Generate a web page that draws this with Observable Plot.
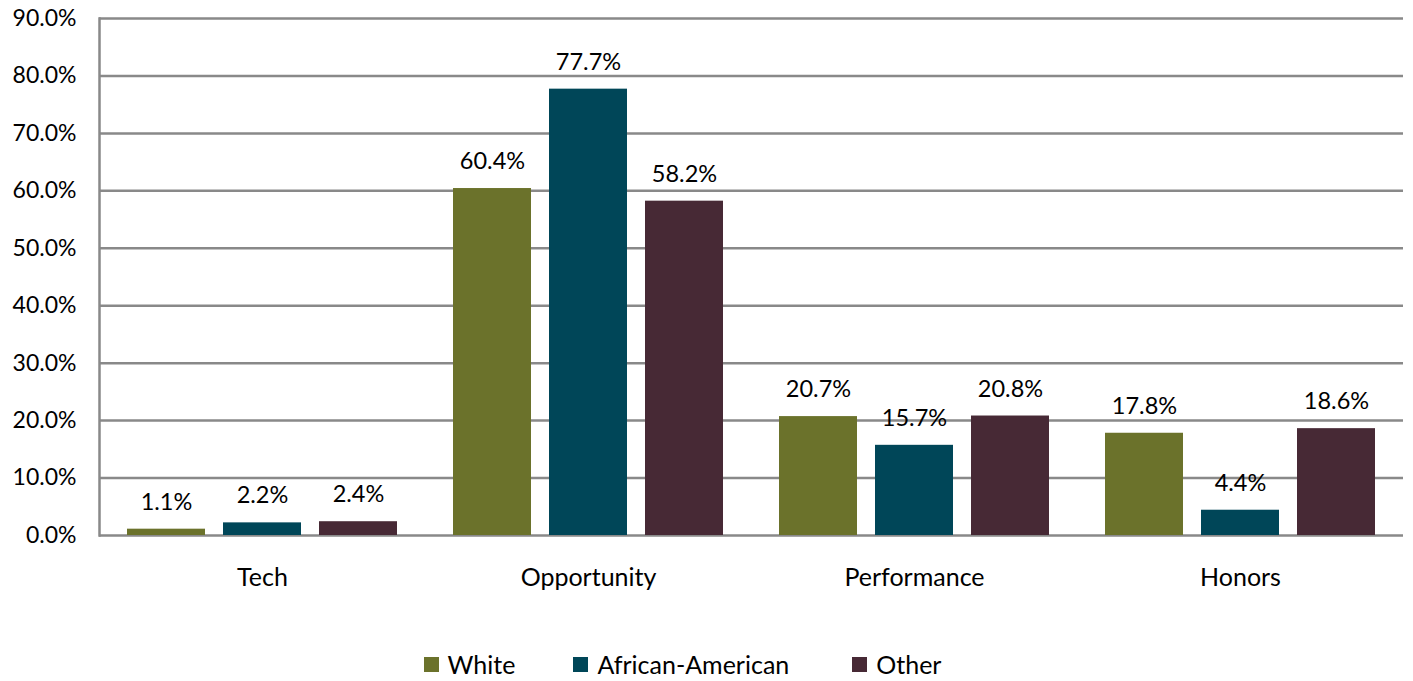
<!DOCTYPE html>
<html><head><meta charset="utf-8">
<script src="https://cdn.jsdelivr.net/npm/d3@7"></script>
<script src="https://cdn.jsdelivr.net/npm/@observablehq/plot@0.6"></script>
<style>
body{margin:0;background:#fff;font-family:Lato,"Open Sans",sans-serif;}
#legend{display:flex;justify-content:center;font-size:25px;color:#000;margin-top:49px;padding-right:48px;}
.item{display:flex;align-items:center;}
.sw{width:15px;height:15px;margin-right:9px;}
</style></head>
<body><div id="chart"></div><div id="legend"></div>
<script>
const categories = ["Tech","Opportunity","Performance","Honors"];
const series = ["White","African-American","Other"];
const colors = ["#6b722b","#004658","#472935"];
const white = [1.1, 60.4, 20.7, 17.8];
const africanAmerican = [2.2, 77.7, 15.7, 4.4];
const other = [2.4, 58.2, 20.8, 18.6];
const yTicks = [0,10,20,30,40,50,60,70,80,90];

const values = [white, africanAmerican, other];
const data = [];
categories.forEach((c,i)=>series.forEach((s,j)=>data.push({cat:c, s, v:values[j][i]})));

const chart = Plot.plot({
  width: 1413, height: 600,
  marginLeft: 98, marginRight: 10, marginTop: 18, marginBottom: 65,
  style: {fontFamily: "Lato, 'Open Sans', sans-serif", fontSize: "23px", color: "#000"},
  fx: {domain: categories, padding: 0, label: null, axis: null},
  x: {domain: series, paddingInner: 0.1875, paddingOuter: 0.29, axis: null},
  y: {domain: [0,90], label: null, ticks: yTicks, tickFormat: d => d.toFixed(1)+"%", tickSize: 0, tickPadding: 23},
  color: {domain: series, range: colors},
  marks: [
    Plot.ruleY(yTicks, {stroke: "#898989", strokeWidth: 2.5}),
    Plot.frame({anchor: "left", facetAnchor: "left", stroke: "#898989", strokeWidth: 2.5}),
    Plot.barY(data, {fx: "cat", x: "s", y: "v", fill: "s"}),
    Plot.text(data, {fx: "cat", x: "s", y: "v", text: d => d.v.toFixed(1)+"%", dy: -27, fontSize: 23.5, fill: "#000"}),
    Plot.axisFx({anchor: "bottom", tickSize: 0, tickPadding: 33, fontSize: 25, label: null})
  ]
});
document.getElementById("chart").appendChild(chart);

const gaps = ["58px","63px","0px"];
const lg = document.getElementById("legend");
series.forEach((s,i)=>{
  const it = document.createElement("div"); it.className="item";
  it.style.marginRight = gaps[i];
  it.innerHTML = `<span class="sw" style="background:${colors[i]}"></span><span>${s}</span>`;
  lg.appendChild(it);
});
</script></body></html>
